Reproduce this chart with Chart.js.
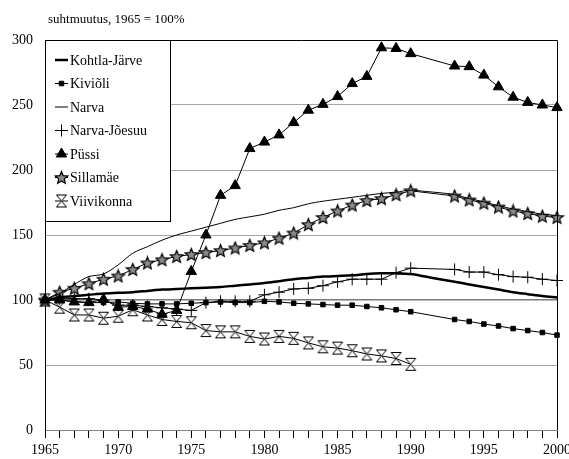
<!DOCTYPE html>
<html>
<head>
<meta charset="utf-8">
<script src="https://cdn.jsdelivr.net/npm/chart.js@4/dist/chart.umd.min.js"></script>
<style>
    html, body { margin: 0; padding: 0; background: #fff; }
    canvas { display: block; }
</style>
</head>
<body>
<canvas id="townChart" width="569" height="459"></canvas>
<script>
// Population change of the towns, 1965 = 100%
const years = [1965, 1966, 1967, 1968, 1969, 1970, 1971, 1972, 1973, 1974,
    1975, 1976, 1977, 1978, 1979, 1980, 1981, 1982, 1983, 1984,
    1985, 1986, 1987, 1988, 1989, 1990, 1991, 1992, 1993, 1994,
    1995, 1996, 1997, 1998, 1999, 2000];

const kohtlaJarve = [100, 102, 103, 104, 105, 105.5, 106, 107, 108, 108.5,
    109, 109.5, 110, 111, 112, 113, 114.5, 116, 117, 118,
    118.5, 119, 120, 120.5, 120.5, 120, 118, 116, 114, 112,
    110, 108, 106, 104.5, 103, 102];
const kivioli = [100, 100, 99, 98, 98, 98.5, 97.5, 97, 97, 97,
    97.5, 98, 98.5, 98, 98, 99, 98.5, 97.5, 97, 96.5,
    96, 96, 95, 94, 92.5, 91, null, null, 85, 83.5,
    81.5, 80, 78, 76.5, 75, 73];
const narva = [100, 105, 112, 118, 120, 127, 136, 141, 146, 150,
    153, 156, 159, 162, 164, 166, 169, 171, 174, 176,
    177.5, 179, 180.5, 182, 183, 184.5, 183.5, 182.5, 181, 178,
    175.5, 172.5, 170, 168, 166, 165];
const narvaJoesuu = [100, 101, 101, 101, 100, 96, 96, 95, 94, 93,
    92, 98, 99, 99, 99, 104, 106, 108.5, 109, 111,
    114, 116, 116, 116, 121, 124.5, null, null, 123.5, 121.5,
    121.5, 119.5, 118, 117.5, 116, 115];
const pussi = [100, 100, 98.5, 98, 100.5, 94.5, 95, 93, 89, 92,
    122, 150, 180.5, 188, 216.5, 221.5, 227, 236.5, 246, 250.5,
    256.5, 266.5, 272, 294, 293.5, 289.5, null, null, 280, 279.5,
    273, 264, 256, 252, 250, 248];
const sillamae = [100, 106, 109, 112.5, 116, 118.5, 123.5, 128.5, 131, 133.5,
    135, 136.5, 138, 140, 142, 144, 147.5, 151.5, 158, 163.5,
    168.5, 173, 176.5, 178, 181, 184, null, null, 180, 177,
    174.5, 171.5, 168.5, 166.5, 164.5, 163.5];
const viivikonna = [100, 94.5, 88.5, 88.5, 86, 87.5, 92.5, 88.5, 85, 83.5,
    82.5, 76.5, 75.5, 75.5, 72, 70, 72, 70.5, 67, 64,
    63, 61, 58.5, 57, 55, 50.5, null, null, null, null,
    null, null, null, null, null, null];

const yTicks = [0, 50, 100, 150, 200, 250, 300];

const FONT = "'Liberation Serif', 'Times New Roman', serif";

// Five-pointed star marker, grey inside
function makeStar() {
    const c = document.createElement('canvas');
    c.width = 15; c.height = 15;
    const g = c.getContext('2d');
    g.beginPath();
    for (let i = 0; i < 10; i++) {
        const r = i % 2 === 0 ? 6.5 : 2.9;
        const a = -Math.PI / 2 + i * Math.PI / 5;
        const px = 7.5 + r * Math.cos(a);
        const py = 8 + r * Math.sin(a);
        if (i === 0) g.moveTo(px, py); else g.lineTo(px, py);
    }
    g.closePath();
    g.fillStyle = '#8c8c8c';
    g.fill();
    g.strokeStyle = '#000';
    g.lineWidth = 1.2;
    g.stroke();
    return c;
}

// Hourglass marker, white inside
function makeHourglass() {
    const c = document.createElement('canvas');
    c.width = 13; c.height = 15;
    const g = c.getContext('2d');
    g.beginPath();
    g.moveTo(1.5, 1.5);
    g.lineTo(11.5, 1.5);
    g.lineTo(6.5, 7.5);
    g.lineTo(11.5, 13.5);
    g.lineTo(1.5, 13.5);
    g.lineTo(6.5, 7.5);
    g.closePath();
    g.fillStyle = '#fff';
    g.fill();
    g.strokeStyle = '#000';
    g.lineWidth = 1;
    g.stroke();
    return c;
}

const starImg = makeStar();
const hourglassImg = makeHourglass();

function series(label, data, extra) {
    return Object.assign({
        label: label,
        data: data,
        borderColor: '#000',
        backgroundColor: '#000',
        borderWidth: 1,
        pointRadius: 0,
        pointBorderColor: '#000',
        pointBackgroundColor: '#000',
        pointBorderWidth: 1,
        spanGaps: true,
        tension: 0
    }, extra);
}

const datasets = [
    series('Kohtla-Järve', kohtlaJarve, { borderWidth: 2.5, tension: 0.3 }),
    series('Kiviõli', kivioli, { pointStyle: 'rect', pointRadius: 3.2 }),
    series('Narva', narva, { tension: 0.3 }),
    series('Narva-Jõesuu', narvaJoesuu, { pointStyle: 'cross', pointRadius: 6 }),
    series('Püssi', pussi, { pointStyle: 'triangle', pointRadius: 6 }),
    series('Sillamäe', sillamae, { pointStyle: starImg, pointRadius: 7 }),
    series('Viivikonna', viivikonna, { pointStyle: hourglassImg, pointRadius: 7 })
];

// Title, frame and the boxed legend inside the plot
const extras = {
    id: 'extras',
    afterDatasetsDraw(chart) {
        const ctx = chart.ctx;
        const a = chart.chartArea;
        ctx.save();

        ctx.strokeStyle = '#000';
        ctx.lineWidth = 1;
        ctx.beginPath();
        ctx.moveTo(a.left, a.top + 0.5);
        ctx.lineTo(a.right + 0.5, a.top + 0.5);
        ctx.lineTo(a.right + 0.5, a.bottom);
        ctx.stroke();

        // legend box
        const bx = a.left + 0.5, by = a.top + 0.5, bw = 125, bh = 181;
        ctx.fillStyle = '#fff';
        ctx.fillRect(bx, by, bw, bh);
        ctx.strokeRect(bx, by, bw, bh);

        ctx.font = '14px ' + FONT;
        ctx.textBaseline = 'middle';
        ctx.textAlign = 'left';
        chart.data.datasets.forEach((ds, i) => {
            const y = a.top + 20 + i * 23.5;
            const x0 = a.left + 10, x1 = a.left + 23;
            ctx.strokeStyle = '#000';
            ctx.lineWidth = ds.borderWidth;
            ctx.beginPath();
            ctx.moveTo(x0, y);
            ctx.lineTo(x1, y);
            ctx.stroke();
            if (ds.pointRadius > 0) {
                ctx.fillStyle = '#000';
                ctx.lineWidth = 1;
                Chart.helpers.drawPoint(ctx, {
                    pointStyle: ds.pointStyle,
                    radius: ds.pointRadius,
                    rotation: 0,
                    borderWidth: 1
                }, (x0 + x1) / 2, y);
            }
            ctx.fillStyle = '#000';
            ctx.fillText(ds.label, a.left + 25, y + 1);
        });

        ctx.restore();
    },
    afterDraw(chart) {
        const ctx = chart.ctx;
        ctx.save();
        ctx.font = '13px ' + FONT;
        ctx.fillStyle = '#000';
        ctx.textBaseline = 'middle';
        ctx.fillText('suhtmuutus, 1965 = 100%', 48, 20);
        ctx.restore();
    }
};

new Chart(document.getElementById('townChart'), {
    type: 'line',
    data: { labels: years, datasets: datasets },
    options: {
        responsive: false,
        animation: false,
        layout: { padding: { top: 40, right: 12, left: 0, bottom: 0 } },
        plugins: {
            legend: { display: false },
            tooltip: { enabled: false }
        },
        scales: {
            x: {
                type: 'category',
                offset: false,
                grid: {
                    drawOnChartArea: false,
                    drawTicks: true,
                    tickLength: 8,
                    tickColor: '#000'
                },
                border: { color: '#808080', width: 1 },
                ticks: {
                    autoSkip: false,
                    maxRotation: 0,
                    padding: 4,
                    color: '#000',
                    font: { family: FONT, size: 14 },
                    callback: function(value, index) {
                        return years[index] % 5 === 0 ? String(years[index]) : '';
                    }
                },
                afterFit: function(scale) {
                    scale.height = 29;
                    scale.paddingLeft = 0;
                    scale.paddingRight = 0;
                }
            },
            y: {
                min: yTicks[0],
                max: yTicks[yTicks.length - 1],
                grid: {
                    drawTicks: false,
                    color: function(context) {
                        const v = context.tick.value;
                        if (v === 0 || v === 300) return 'rgba(0,0,0,0)';
                        return v === 100 ? '#7a7a7a' : '#a6a6a6';
                    },
                    lineWidth: function(context) {
                        return context.tick.value === 100 ? 1.5 : 1;
                    }
                },
                border: { color: '#000', width: 1 },
                ticks: {
                    stepSize: 50,
                    padding: 12,
                    color: '#000',
                    font: { family: FONT, size: 14 }
                },
                afterFit: function(scale) {
                    scale.width = 45;
                }
            }
        }
    },
    plugins: [extras]
});
</script>
</body>
</html>
